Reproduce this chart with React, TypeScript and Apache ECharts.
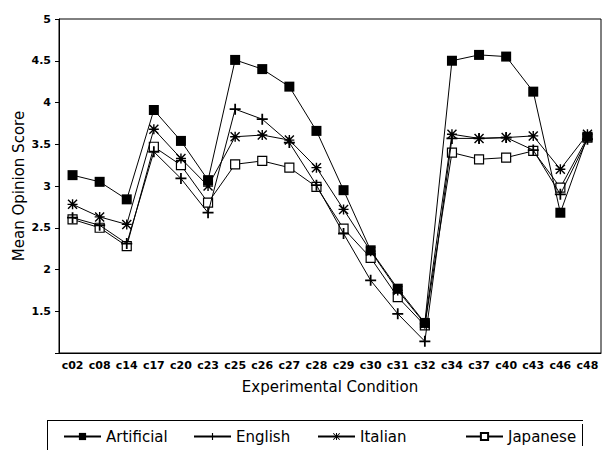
import React, { useEffect, useRef } from "react";
import * as echarts from "echarts";

// Experimental conditions on the x axis
const conditions = [
  "c02", "c08", "c14", "c17", "c20", "c23", "c25", "c26", "c27", "c28",
  "c29", "c30", "c31", "c32", "c34", "c37", "c40", "c43", "c46", "c48",
];

// Mean opinion scores per language group
const artificial = [3.13, 3.05, 2.84, 3.91, 3.54, 3.07, 4.51, 4.40, 4.19, 3.66, 2.95, 2.23, 1.77, 1.36, 4.50, 4.57, 4.55, 4.13, 2.68, 3.59];
const english = [2.62, 2.53, 2.31, 3.41, 3.09, 2.68, 3.92, 3.80, 3.52, 3.01, 2.43, 1.87, 1.47, 1.14, 3.57, 3.57, 3.58, 3.43, 2.90, 3.56];
const italian = [2.78, 2.63, 2.54, 3.68, 3.33, 3.00, 3.59, 3.61, 3.55, 3.22, 2.72, 2.22, 1.75, 1.35, 3.62, 3.57, 3.58, 3.60, 3.20, 3.62];
const japanese = [2.60, 2.50, 2.28, 3.47, 3.25, 2.80, 3.26, 3.30, 3.22, 2.99, 2.49, 2.14, 1.67, 1.33, 3.40, 3.32, 3.34, 3.42, 2.98, 3.58];

const yMin = 1;
const yMax = 5;
const yStep = 0.5;

const FONT = "DejaVu Sans";

const PLUS = "path://M4.2,0H5.8V4.2H10V5.8H5.8V10H4.2V5.8H0V4.2H4.2Z";
const STAR =
  "path://M4.3,0H5.7V10H4.3Z M0,4.3H10V5.7H0Z M1,0L10,9L9,10L0,1Z M9,0L10,1L1,10L0,9Z";

export default function App() {
  const ref = useRef<HTMLDivElement>(null);

  useEffect(() => {
    if (!ref.current) return;
    const chart = echarts.init(ref.current, null, { renderer: "svg" });

    const line = { color: "#000", width: 1 };
    const legendBase = {
      top: 429,
      padding: 0,
      itemWidth: 37,
      itemHeight: 9,
      textStyle: { fontFamily: FONT, fontSize: 15, color: "#000" },
    };

    chart.setOption({
      animation: false,
      backgroundColor: "#fff",
      grid: {
        left: 59,
        right: 1,
        top: 19,
        bottom: 97,
        outerBoundsMode: "none",
        containLabel: false,
        show: true,
        borderColor: "#000",
        borderWidth: 1,
      },
      xAxis: {
        type: "category",
        data: conditions,
        boundaryGap: true,
        name: "Experimental Condition",
        nameLocation: "middle",
        nameGap: 26,
        nameTextStyle: { fontFamily: FONT, fontSize: 15, color: "#000" },
        axisLine: { lineStyle: { color: "#000", width: 1 } },
        axisTick: { alignWithLabel: true, length: 4, lineStyle: { color: "#000" } },
        axisLabel: {
          interval: 0,
          margin: 7,
          fontFamily: FONT,
          fontSize: 11,
          fontWeight: "bold",
          color: "#000",
        },
        splitLine: { show: false },
      },
      yAxis: {
        type: "value",
        min: yMin,
        max: yMax,
        interval: yStep,
        name: "Mean Opinion Score",
        nameLocation: "middle",
        nameRotate: 90,
        nameGap: 33,
        nameMoveOverlap: false,
        nameTextStyle: { fontFamily: FONT, fontSize: 15, color: "#000" },
        axisLine: { show: true, lineStyle: { color: "#000", width: 1 } },
        axisTick: { show: true, length: 4, lineStyle: { color: "#000" } },
        axisLabel: {
          margin: 8,
          fontFamily: FONT,
          fontSize: 11,
          fontWeight: "bold",
          color: "#000",
          formatter: (v: number) => (v === yMin ? "" : String(v)),
        },
        splitLine: { show: false },
      },
      legend: [
        { ...legendBase, left: 63, data: ["Artificial"] },
        { ...legendBase, left: 193, data: ["English"] },
        { ...legendBase, left: 317, data: ["Italian"] },
        { ...legendBase, left: 465, data: ["Japanese"] },
      ],
      graphic: [
        { type: "line", shape: { x1: 47, y1: 420.5, x2: 583, y2: 420.5 }, style: { stroke: "#000", lineWidth: 1 } },
        { type: "line", shape: { x1: 47.5, y1: 420, x2: 47.5, y2: 450 }, style: { stroke: "#000", lineWidth: 1 } },
        { type: "line", shape: { x1: 582.5, y1: 424, x2: 582.5, y2: 446 }, style: { stroke: "#000", lineWidth: 1 } },
      ],
      series: [
        {
          name: "Japanese",
          type: "line",
          data: japanese,
          symbol: "rect",
          symbolSize: 9,
          showAllSymbol: true,
          lineStyle: line,
          itemStyle: { color: "#fff", borderColor: "#000", borderWidth: 1.2 },
          z: 2,
        },
        {
          name: "English",
          type: "line",
          data: english,
          symbol: PLUS,
          symbolSize: 11,
          showAllSymbol: true,
          lineStyle: line,
          itemStyle: { color: "#000" },
          z: 3,
        },
        {
          name: "Italian",
          type: "line",
          data: italian,
          symbol: STAR,
          symbolSize: 10,
          showAllSymbol: true,
          lineStyle: line,
          itemStyle: { color: "#000" },
          z: 4,
        },
        {
          name: "Artificial",
          type: "line",
          data: artificial,
          symbol: "rect",
          symbolSize: 10,
          showAllSymbol: true,
          lineStyle: line,
          itemStyle: { color: "#000" },
          z: 5,
        },
      ],
    });

    return () => chart.dispose();
  }, []);

  return (
    <div
      ref={ref}
      style={{ position: "absolute", left: 0, top: 0, width: 602, height: 450 }}
    />
  );
}
